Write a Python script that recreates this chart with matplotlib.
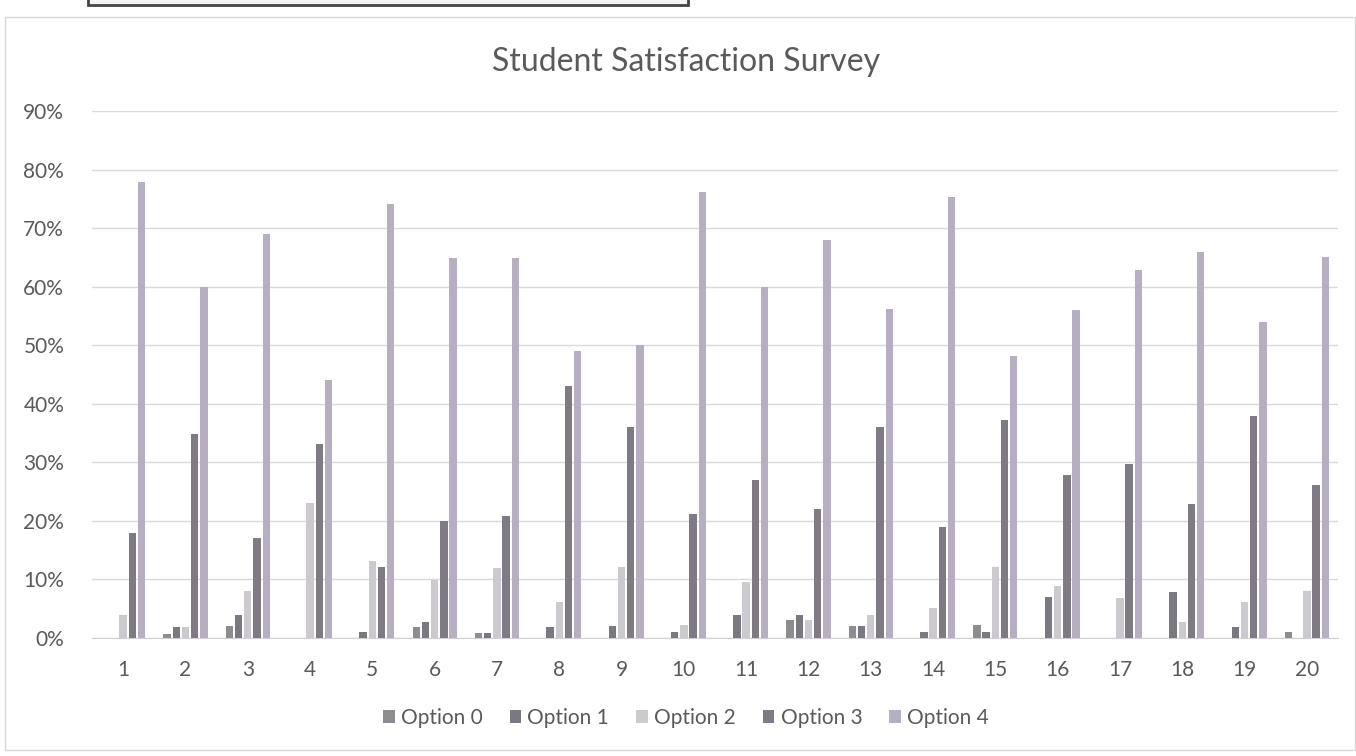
import numpy as np
import matplotlib
matplotlib.use("Agg")
import matplotlib.pyplot as plt
from matplotlib.patches import Rectangle

plt.rcParams['font.family'] = ['Lato', 'DejaVu Sans']

categories = [str(i) for i in range(1, 21)]
series_names = ["Option 0", "Option 1", "Option 2", "Option 3", "Option 4"]
opt0 = [0, 0.7, 2.0, 0, 0, 1.8, 0.9, 0, 0, 0, 0, 3.1, 2.0, 0, 2.2, 0, 0, 0, 0, 1.0]
opt1 = [0, 1.9, 4.0, 0, 1.1, 2.8, 0.9, 1.9, 2.1, 1.1, 4.0, 4.0, 2.0, 1.0, 1.1, 7.0, 0, 7.9, 1.9, 0]
opt2 = [3.9, 1.9, 8.1, 23.1, 13.2, 9.9, 11.9, 6.1, 12.2, 2.2, 9.5, 3.1, 4.0, 5.2, 12.2, 8.8, 6.8, 2.7, 6.1, 8.1]
opt3 = [18.0, 34.9, 17.0, 33.2, 12.1, 19.9, 20.9, 43.0, 36.1, 21.2, 27.0, 22.0, 36.0, 19.0, 37.2, 27.8, 29.8, 22.9, 37.9, 26.1]
opt4 = [77.9, 60.0, 69.0, 44.0, 74.2, 64.9, 64.9, 49.0, 50.1, 76.2, 60.0, 68.0, 56.2, 75.3, 48.2, 56.0, 62.8, 65.9, 54.0, 65.0]
series = [opt0, opt1, opt2, opt3, opt4]
colors = ["#8e8c90", "#7a7880", "#cdc9d1", "#7f7a84", "#b7afc1"]

text_color = "#5a5a5a"
fig = plt.figure(figsize=(13.56, 7.56), dpi=100)
fig.patch.set_facecolor("white")

# outer chart frame and scan artifacts
fig.patches.append(Rectangle((5/1356, 6/756), 1350/1356, 733/756, transform=fig.transFigure,
                             fill=False, edgecolor="#d8d8d8", linewidth=1.0))
fig.patches.append(Rectangle((88/1356, 751/756), 600/1356, 8/756, transform=fig.transFigure,
                             fill=True, facecolor="#f4f4f4", edgecolor="#444444", linewidth=2.0))

ax = fig.add_axes([92/1356, 118/756, (1338-92)/1356, (638-111)/756])
x = np.arange(len(categories))
slot = 0.148
bw = slot * 0.8
for i, (vals, c, name) in enumerate(zip(series, colors, series_names)):
    ax.bar(x + (i - 2) * slot, np.array(vals) / 100.0, width=bw, color=c, label=name, zorder=3)

ax.set_xlim(-0.5, len(categories) - 0.5)
ax.set_ylim(0, 0.9)
ax.set_yticks(np.arange(0, 0.91, 0.1))
ax.set_yticklabels([f"{int(round(v*100))}%" for v in np.arange(0, 0.91, 0.1)])
ax.set_xticks(x)
ax.set_xticklabels(categories)
ax.tick_params(axis="y", length=0, pad=20, labelsize=15, labelcolor=text_color)
ax.tick_params(axis="x", length=0, pad=16, labelsize=15, labelcolor=text_color)
ax.grid(axis="y", color="#d9d9d9", linewidth=1.0, zorder=0)
for s in ["top", "right", "left"]:
    ax.spines[s].set_visible(False)
ax.spines["bottom"].set_color("#d0d0d0")

fig.text(686/1356, 1 - 62/756, "Student Satisfaction Survey", ha="center", va="center",
         fontsize=23, color=text_color)

leg = fig.legend(loc="center", bbox_to_anchor=(686/1356, 1 - 718/756), ncol=5, frameon=False,
                 fontsize=15, handlelength=0.55, handleheight=0.55, handletextpad=0.3,
                 columnspacing=1.3)
for t in leg.get_texts():
    t.set_color(text_color)

fig.savefig("out.png", dpi=100, facecolor="white")
